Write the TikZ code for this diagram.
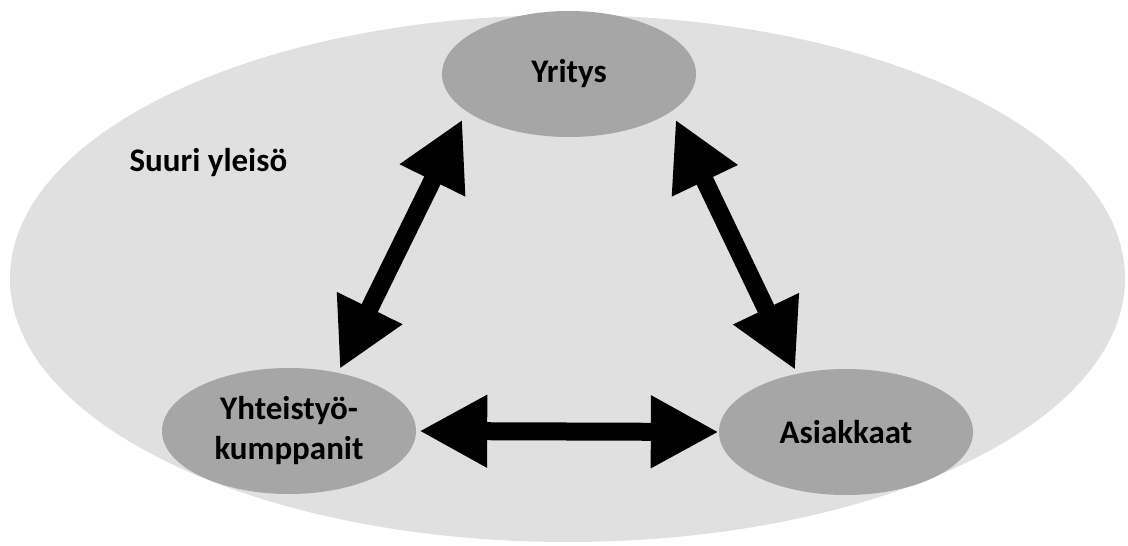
\documentclass[tikz,border=0pt]{standalone}
\usepackage{fontspec}
\setmainfont{Carlito}
\usetikzlibrary{shapes.geometric, arrows.meta}

\definecolor{yleisovari}{HTML}{E0E0E0}
\definecolor{ryhmavari}{HTML}{A6A6A6}

\begin{document}
\begin{tikzpicture}[x=1pt, y=-1pt,
    teksti/.style={font=\fontsize{33}{40}\selectfont\bfseries, align=center},
    ryhma/.style={teksti, ellipse, fill=ryhmavari, inner sep=0pt, minimum width=254pt, minimum height=126pt},
    nuoli/.style={{Triangle[length=68pt, width=68pt]}-{Triangle[length=68pt, width=68pt]}, line width=18pt}]
    \useasboundingbox (0,0) rectangle (1128,546);

    \node[ellipse, fill=yleisovari, minimum width=1115pt, minimum height=527pt] (yleiso) at (567.5,278.5) {};
    \node[teksti, anchor=base west] (suuri) at (126,171) {Suuri yleisö};

    \node[ryhma] (yritys) at (569,74) {Yritys};
    \node[ryhma] (kumppanit) at (289,431) {Yhteistyö-\\kumppanit};
    \node[ryhma] (asiakkaat) at (846,432) {Asiakkaat};

    \draw[nuoli, shorten <=9pt, shorten >=4pt] (yritys.200) -- (kumppanit.50);
    \draw[nuoli, shorten <=9pt, shorten >=4pt] (yritys.340) -- (asiakkaat.130);
    \draw[nuoli, shorten <=3pt] (kumppanit.east) -- (asiakkaat.west);
\end{tikzpicture}
\end{document}
